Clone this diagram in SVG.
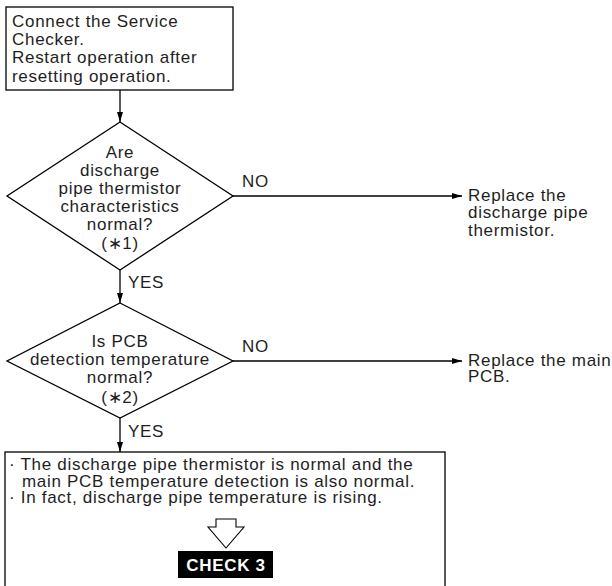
<svg xmlns="http://www.w3.org/2000/svg" width="612" height="586" viewBox="0 0 612 586">
<defs>
<style>
.t{font-family:"Liberation Sans",Arial,sans-serif;font-size:17px;letter-spacing:0.7px;fill:#1e1e1e}
.c{text-anchor:middle}
.shape{fill:#fff;stroke:#000;stroke-width:1.3}
.ln{fill:none;stroke:#000;stroke-width:1.3}
.chk{font-family:"Liberation Sans",Arial,sans-serif;font-size:17px;font-weight:bold;letter-spacing:0.7px;fill:#fff;text-anchor:middle}
</style>
<marker id="ah" markerUnits="userSpaceOnUse" markerWidth="10" markerHeight="8" viewBox="0 0 10 8" refX="10" refY="4" orient="auto">
<path d="M0,1 L10,4 L0,7 Z" fill="#000"/>
</marker>
</defs>
<rect width="612" height="586" fill="#fff"/>

<g id="connectors">
<line class="ln" x1="120" y1="90" x2="120" y2="122" marker-end="url(#ah)"/>
<line class="ln" x1="120" y1="270" x2="120" y2="303" marker-end="url(#ah)"/>
<line class="ln" x1="120" y1="418" x2="120" y2="452" marker-end="url(#ah)"/>
<line class="ln" x1="233" y1="196" x2="462" y2="196" marker-end="url(#ah)"/>
<line class="ln" x1="233" y1="361" x2="462" y2="361" marker-end="url(#ah)"/>
<text class="t" x="128" y="288">YES</text>
<text class="t" x="128" y="437">YES</text>
<text class="t" x="242" y="187">NO</text>
<text class="t" x="242" y="352">NO</text>
</g>

<g id="start">
<rect class="shape" x="6" y="7" width="227" height="83"/>
<text class="t" x="12" y="27">Connect the Service</text>
<text class="t" x="12" y="45">Checker.</text>
<text class="t" x="12" y="63.3">Restart operation after</text>
<text class="t" x="12" y="81.5">resetting operation.</text>
</g>

<g id="decision1">
<polygon class="shape" points="120,122 233,196 120,270 7,196"/>
<text class="t c" x="120" y="158">Are</text>
<text class="t c" x="120" y="176">discharge</text>
<text class="t c" x="120" y="194">pipe thermistor</text>
<text class="t c" x="120" y="212">characteristics</text>
<text class="t c" x="120" y="230">normal?</text>
<text class="t c" x="120" y="249">(∗1)</text>
</g>

<g id="replace-thermistor">
<text class="t" x="468" y="200.7">Replace the</text>
<text class="t" x="468" y="218">discharge pipe</text>
<text class="t" x="468" y="236">thermistor.</text>
</g>

<g id="decision2">
<polygon class="shape" points="120,303 233,361 120,418 7,361"/>
<text class="t c" x="120" y="347">Is PCB</text>
<text class="t c" x="120" y="365">detection temperature</text>
<text class="t c" x="120" y="383">normal?</text>
<text class="t c" x="120" y="403">(∗2)</text>
</g>

<g id="replace-pcb">
<text class="t" x="468" y="366">Replace the main</text>
<text class="t" x="468" y="382.3">PCB.</text>
</g>

<g id="result">
<rect class="shape" x="5" y="452" width="440" height="140"/>
<text class="t" x="9" y="470">· The discharge pipe thermistor is normal and the</text>
<text class="t" x="22" y="486.5">main PCB temperature detection is also normal.</text>
<text class="t" x="9" y="503">· In fact, discharge pipe temperature is rising.</text>
<polygon points="216,519 236,519 236,527 244,527 226,548 208,527 216,527" fill="#fff" stroke="#000" stroke-width="1.1"/>
<rect x="178" y="551" width="95" height="27" fill="#000"/>
<text class="chk" x="226" y="571">CHECK 3</text>
</g>
</svg>
